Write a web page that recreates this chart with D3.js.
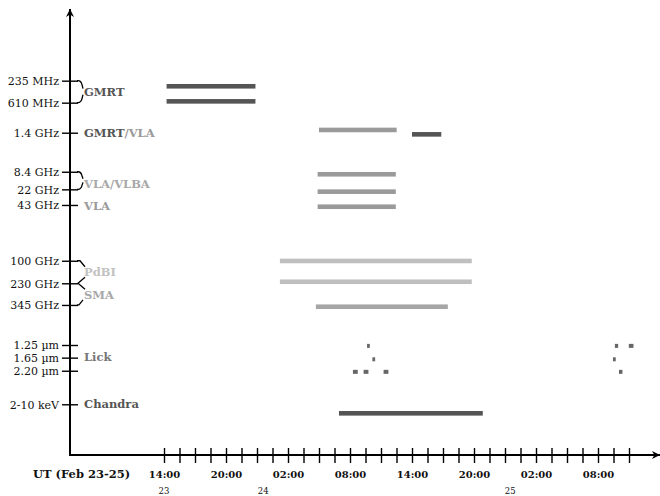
<!DOCTYPE html>
<html><head><meta charset="utf-8">
<script src="https://cdn.jsdelivr.net/npm/d3@7"></script>
<style>
html,body{margin:0;padding:0;background:#fff;}
svg{display:block;}
text{font-family:"DejaVu Serif",serif;}
</style></head>
<body>
<svg id="chart" width="660" height="496"></svg>
<script>
// ---------- data ----------
const timeStart = "2003-02-23 14:00";
const timeEnd = "2003-02-25 11:00";
const tickStepMinutes = 90;
const timeLabelStep = 4; // label every 4th tick (6 h)

// spectral bands (row position on the band axis)
const bandLabels = ["235 MHz","610 MHz","1.4 GHz","8.4 GHz","22 GHz","43 GHz","100 GHz","230 GHz","345 GHz","1.25 µm","1.65 µm","2.20 µm","2-10 keV"];
const bandRows   = [34.03, 32.03, 29.3, 25.75, 24.15, 22.73, 17.66, 15.61, 13.64, 10.0, 8.85, 7.66, 4.61];

// instrument labels
const instrumentNames = ["GMRT","GMRT/VLA","VLA/VLBA","VLA","PdBI","SMA","Lick","Chandra"];
const instrumentRows  = [33.03, 29.27, 24.68, 22.64, 16.64, 14.55, 8.9, 4.64];

// observation intervals: [instrument, row, start, end]
const radioObs = [
  ["GMRT", 33.52, "2003-02-23 14:15", "2003-02-23 22:51"],
  ["GMRT", 32.15, "2003-02-23 14:15", "2003-02-23 22:51"],
  ["VLA",  29.55, "2003-02-24 05:00", "2003-02-24 12:31"],
  ["GMRT", 29.15, "2003-02-24 14:00", "2003-02-24 16:50"],
  ["VLA",  25.52, "2003-02-24 04:52", "2003-02-24 12:26"],
  ["VLA",  23.94, "2003-02-24 04:52", "2003-02-24 12:26"],
  ["VLA",  22.57, "2003-02-24 04:52", "2003-02-24 12:26"],
  ["PdBI", 17.64, "2003-02-24 01:13", "2003-02-24 19:47"],
  ["PdBI", 15.75, "2003-02-24 01:13", "2003-02-24 19:47"],
  ["SMA",  13.48, "2003-02-24 04:42", "2003-02-24 17:28"],
  ["Chandra", 3.79, "2003-02-24 06:56", "2003-02-24 20:51"]
];
const lickObs = [
  [9.92, "2003-02-24 09:39", "2003-02-24 09:55"],
  [9.92, "2003-02-25 09:38", "2003-02-25 09:57"],
  [9.92, "2003-02-25 10:59", "2003-02-25 11:26"],
  [8.70, "2003-02-24 10:10", "2003-02-24 10:26"],
  [8.70, "2003-02-25 09:27", "2003-02-25 09:43"],
  [7.56, "2003-02-24 08:17", "2003-02-24 08:45"],
  [7.56, "2003-02-24 09:19", "2003-02-24 09:47"],
  [7.56, "2003-02-24 11:15", "2003-02-24 11:43"],
  [7.56, "2003-02-25 10:02", "2003-02-25 10:22"]
];
// day markers under the time axis
const dayNames = ["23","24","25"];
const dayTimes = ["2003-02-23 14:00","2003-02-23 23:36","2003-02-24 23:30"];

// ---------- drawing ----------
const parse = d3.timeParse("%Y-%m-%d %H:%M");
const svg = d3.select("#chart");
const axisX0 = 70, axisY0 = 455;

const x = d3.scaleTime().domain([parse(timeStart), parse(timeEnd)]).range([164, 629]);
const y = d3.scaleLinear().domain([0, 40]).range([455, 15]);

const colors = {GMRT:"#555555", VLA:"#9a9a9a", VLBA:"#a8a8a8", PdBI:"#bfbfbf", SMA:"#a6a6a6", Lick:"#666666", Chandra:"#545454"};
const labelColors = {"GMRT":"#555","VLA":"#9a9a9a","VLA/VLBA":"#a8a8a8","PdBI":"#c2c2c2","SMA":"#a8a8a8","Lick":"#777","Chandra":"#555"};

// bars
svg.append("g").selectAll("rect").data(radioObs).join("rect")
  .attr("x", d => x(parse(d[2])))
  .attr("width", d => x(parse(d[3])) - x(parse(d[2])))
  .attr("y", d => y(d[1]) - 2.3)
  .attr("height", 4.6)
  .attr("fill", d => colors[d[0]]);

svg.append("g").selectAll("rect").data(lickObs).join("rect")
  .attr("x", d => x(parse(d[1])))
  .attr("width", d => x(parse(d[2])) - x(parse(d[1])))
  .attr("y", d => y(d[0]) - 2)
  .attr("height", 4)
  .attr("fill", colors.Lick);

// axes lines with arrows
svg.append("defs").append("marker")
  .attr("id","arr").attr("viewBox","0 0 10 10").attr("refX",10).attr("refY",5)
  .attr("markerWidth",8).attr("markerHeight",8).attr("markerUnits","userSpaceOnUse")
  .attr("orient","auto")
  .append("path").attr("d","M0,0 L10,5 L0,10 L3,5 Z").attr("fill","#000");

svg.append("line").attr("x1",axisX0).attr("y1",axisY0).attr("x2",axisX0).attr("y2",9)
  .attr("stroke","#000").attr("stroke-width",2).attr("marker-end","url(#arr)");
svg.append("line").attr("x1",axisX0-1).attr("y1",axisY0).attr("x2",660).attr("y2",axisY0)
  .attr("stroke","#000").attr("stroke-width",2).attr("marker-end","url(#arr)");

// x ticks
const t0 = parse(timeStart);
const tickTimes = d3.range(31).map(i => d3.timeMinute.offset(t0, tickStepMinutes*i));
const xTicks = svg.append("g").attr("transform",`translate(0,${axisY0-7})`)
  .call(d3.axisBottom(x).tickValues(tickTimes).tickSize(15).tickFormat(""));
xTicks.select(".domain").remove();
xTicks.selectAll("line").attr("stroke","#000").attr("stroke-width",1.4);

const xLabels = svg.append("g").attr("transform",`translate(0,${axisY0})`)
  .call(d3.axisBottom(x).tickValues(tickTimes.filter((d,i)=> i % timeLabelStep === 0))
    .tickSize(0).tickFormat(d3.timeFormat("%H:%M")));
xLabels.select(".domain").remove();
xLabels.selectAll("text").attr("y",22.5).attr("dy",0)
  .attr("font-family","DejaVu Serif").attr("font-size",10).attr("font-weight","bold").attr("fill","#111");

svg.append("text").attr("x",33).attr("y",478).attr("font-size",11.5).attr("font-weight","bold")
  .attr("fill","#111").text("UT (Feb 23-25)");

svg.append("g").selectAll("text").data(dayNames).join("text")
  .attr("x",(d,i)=>x(parse(dayTimes[i]))).attr("y",494).attr("text-anchor","middle")
  .attr("font-size",8.5).attr("fill","#111").text(d=>d);

// y ticks + labels
const yTicks = svg.append("g").attr("transform",`translate(78,0)`)
  .call(d3.axisLeft(y).tickValues(bandRows).tickSize(16).tickPadding(3)
    .tickFormat((d,i)=>bandLabels[i]));
yTicks.select(".domain").remove();
yTicks.selectAll("line").attr("stroke","#000").attr("stroke-width",1.4);
yTicks.selectAll("text").attr("font-family","DejaVu Serif").attr("font-size",11)
  .attr("fill","#111").attr("dy","0.35em");

// brackets
const br = svg.append("g").attr("fill","none").attr("stroke","#000").attr("stroke-width",1.3);
function yb(i){ return y(bandRows[i]); }
// GMRT (235 / 610)
br.append("path").attr("d",`M77,${yb(0)} L78,${yb(0)} Q81,${yb(0)} 82,${yb(0)+4} L83,${yb(0)+8}`);
br.append("path").attr("d",`M77,${yb(1)} L78,${yb(1)} Q81,${yb(1)} 82,${yb(1)-4} L83,${yb(1)-8}`);
// VLA/VLBA (8.4 / 22)
br.append("path").attr("d",`M77,${yb(3)} L78,${yb(3)} Q81,${yb(3)} 82,${yb(3)+4} L83,${yb(3)+7}`);
br.append("path").attr("d",`M77,${yb(4)} L78,${yb(4)} Q81,${yb(4)} 82,${yb(4)-4} L83,${yb(4)-7}`);
// PdBI / SMA
br.append("path").attr("d",`M77,${yb(6)} L80,${yb(6)} L85,${yb(6)+6}`);
br.append("path").attr("d",`M85,${yb(7)-6} L78,${yb(7)} L85,${yb(7)+6}`);
br.append("path").attr("d",`M77,${yb(8)} L79,${yb(8)} L83,${yb(8)-5}`);

// instrument labels
const lab = svg.append("g").attr("font-size",11.5).attr("font-weight","bold");
instrumentNames.forEach((name,i)=>{
  const t = lab.append("text").attr("x",84).attr("y",y(instrumentRows[i])).attr("dy","0.36em");
  if(name === "GMRT/VLA"){
    t.append("tspan").attr("fill",labelColors.GMRT).text("GMRT");
    t.append("tspan").attr("fill",labelColors.VLA).text("/VLA");
  } else {
    t.attr("fill",labelColors[name]).text(name);
  }
});
</script>
</body></html>
